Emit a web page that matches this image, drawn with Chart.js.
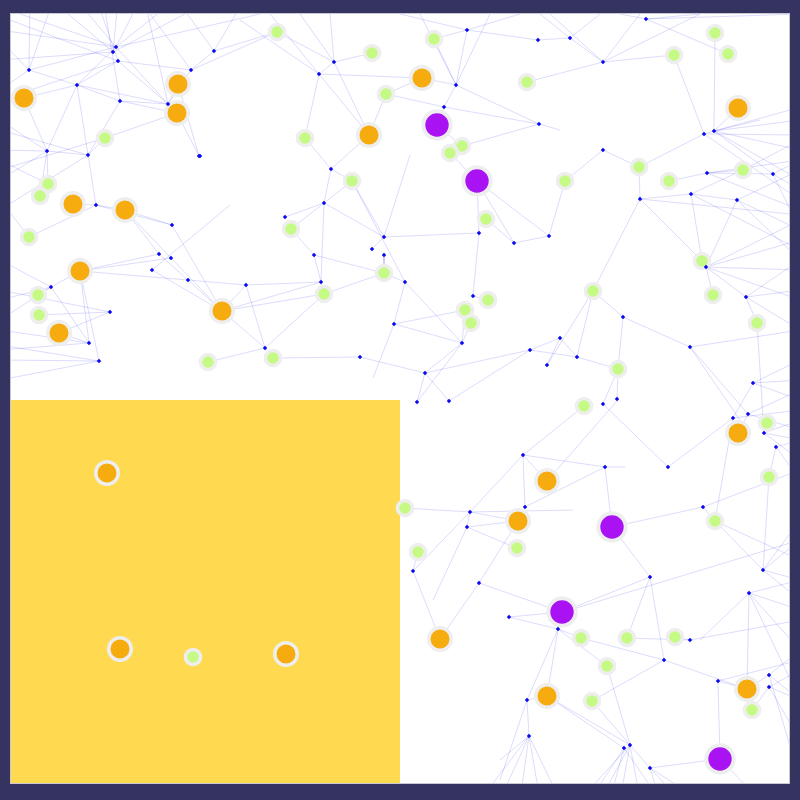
<!DOCTYPE html>
<html>
<head>
<meta charset="utf-8">
<script src="https://cdn.jsdelivr.net/npm/chart.js@4"></script>
<style>
html,body{margin:0;padding:0;background:#35335f;}
#wrap{width:800px;height:800px;position:relative;}
</style>
</head>
<body>
<div id="wrap"><canvas id="c" width="800" height="800"></canvas></div>
<script>
// ---- data (layout coordinates) ----
const orangeNodes = [[24,98],[178,84],[177,113],[73,204],[125,210],[80,271],[59,333],[222,311],[369,135],[422,78],[738,108],[738,433],[547,481],[518,521],[440,639],[547,696],[747,689],[107,473],[120,649],[286,654]];
const purpleNodes = [[437,125],[477,181],[612,527],[562,612],[720,759]];
const greenNodes = [[277,32],[372,53],[434,39],[527,82],[386,94],[305,138],[105,138],[48,184],[40,196],[29,237],[352,181],[462,146],[450,153],[565,181],[486,219],[291,229],[384,273],[324,294],[38,295],[39,315],[208,362],[273,358],[465,310],[488,300],[471,323],[593,291],[715,33],[728,54],[674,55],[639,167],[669,181],[743,170],[702,261],[713,295],[757,323],[618,369],[584,406],[767,423],[769,477],[715,521],[405,508],[418,552],[517,548],[581,638],[627,638],[675,637],[607,666],[592,701],[752,710],[193,657]];
const hubNodes = [[116,47],[113,52],[118,61],[29,70],[77,85],[191,70],[120,101],[168,104],[199,156],[47,151],[88,155],[214,51],[334,62],[319,74],[467,30],[456,85],[444,107],[200,156],[331,169],[646,19],[570,38],[538,40],[603,62],[704,134],[714,131],[603,150],[707,173],[773,174],[691,194],[640,199],[737,200],[539,124],[384,237],[384,255],[405,282],[479,233],[514,243],[549,236],[473,296],[96,205],[172,225],[159,254],[171,258],[152,270],[188,280],[51,287],[110,312],[89,343],[99,361],[324,203],[285,217],[372,249],[314,255],[246,285],[321,282],[265,348],[360,357],[394,324],[462,343],[425,373],[417,402],[449,401],[706,267],[746,297],[623,317],[690,347],[560,338],[577,357],[530,350],[547,365],[753,383],[617,399],[603,404],[748,414],[733,418],[764,433],[776,447],[668,467],[605,467],[523,455],[703,507],[525,507],[470,512],[467,527],[413,571],[479,583],[509,617],[558,629],[650,577],[763,570],[749,593],[664,660],[690,640],[718,681],[769,675],[769,687],[527,700],[529,736],[624,748],[630,745],[650,768]];
// edges as [x1, y1, x2, y2]; endpoints beyond the frame continue off-picture
const edges = [
[116,47,29,70],[116,47,77,85],[116,47,60,-20],[116,47,150,-20],[116,47,200,-20],[116,47,20,14],[113,52,40,-10],[113,52,230,-10],[118,61,168,104],[118,61,77,85],[118,61,90,-20],[118,61,191,70],[118,61,10,20],
[116,47,0,30],[113,52,0,60],[116,47,260,14],[118,61,0,100],[113,52,120,-20],[116,47,168,104],[29,70,0,90],[29,70,30,-10],
[77,85,29,70],[77,85,168,104],[77,85,88,155],[77,85,24,98],[77,85,120,101],[77,85,47,151],[29,70,0,40],[29,70,60,-20],[120,101,168,104],[120,101,177,113],[120,101,100,-20],[168,104,191,70],[168,104,178,84],[168,104,140,-20],
[47,151,88,155],[47,151,24,98],[47,151,48,184],[47,151,0,120],[47,151,0,180],[88,155,105,138],[88,155,96,205],[88,155,120,101],[105,138,177,113],[199,156,177,113],[199,156,178,84],[191,70,214,51],[214,51,277,32],[191,70,277,32],[214,51,170,-10],[214,51,250,-10],[191,70,150,14],
[88,155,0,130],[47,151,0,150],[88,155,0,210],[47,151,40,196],
[319,74,334,62],[319,74,422,78],[319,74,305,138],[319,74,369,135],[319,74,270,14],[319,74,240,20],[334,62,372,53],[334,62,277,32],[334,62,330,14],[334,62,300,14],[334,62,369,135],[331,169,305,138],[331,169,369,135],[331,169,352,181],[331,169,324,203],
[456,85,444,107],[456,85,422,78],[456,85,434,39],[456,85,467,30],[456,85,539,124],[456,85,420,14],[456,85,490,14],[444,107,386,94],[444,107,437,125],[444,107,539,124],[467,30,434,39],[467,30,400,14],[467,30,520,14],[467,30,538,40],[422,78,386,94],[386,94,369,135],[437,125,462,146],[462,146,539,124],[450,153,477,181],[539,124,560,130],
[570,38,603,62],[570,38,538,40],[570,38,540,14],[570,38,600,14],[646,19,728,54],[646,19,620,14],[646,19,700,14],[603,62,674,55],[603,62,527,82],[603,62,550,14],[603,62,640,14],[674,55,704,134],[715,33,714,131],[704,134,639,167],[603,150,565,181],[603,150,639,167],[639,167,640,199],[714,131,738,108],[704,134,714,131],
[714,131,800,150],[714,131,800,180],[714,131,800,120],[714,131,773,174],[714,131,760,120],[707,173,773,174],[707,173,669,181],[707,173,743,170],[707,173,800,210],[773,174,800,160],[773,174,800,190],[691,194,640,199],[691,194,737,200],[691,194,743,170],[737,200,800,230],[737,200,800,170],[743,170,800,140],
[704,134,800,135],[704,134,800,200],[707,173,800,160],[773,174,800,230],[737,200,800,260],[640,199,800,215],[691,194,800,250],[714,131,790,110],[646,19,800,14],[603,62,700,14],
[640,199,593,291],[640,199,702,261],[691,194,702,261],[737,200,706,267],[706,267,713,295],[706,267,746,297],[706,267,800,240],[706,267,800,270],[746,297,757,323],[746,297,800,290],[746,297,800,330],[593,291,623,317],[623,317,690,347],[623,317,618,369],[690,347,800,330],[690,347,740,420],[577,357,618,369],[577,357,560,338],[593,291,577,357],[593,291,547,365],[530,350,577,357],[530,350,560,338],[547,365,560,338],[618,369,603,404],[618,369,617,399],
[706,267,800,300],[746,297,800,260],[706,267,800,220],
[96,205,73,204],[96,205,125,210],[96,205,172,225],[125,210,172,225],[125,210,159,254],[125,210,171,258],[80,271,159,254],[80,271,171,258],[80,271,188,280],[29,237,96,205],[51,287,80,271],[51,287,38,295],[51,287,89,343],[51,287,0,260],[51,287,0,300],[39,315,110,312],[59,333,110,312],[80,271,89,343],[80,271,99,361],[89,343,59,333],[99,361,0,380],[99,361,0,345],[89,343,0,330],[188,280,222,311],[172,225,222,311],[171,258,222,311],[152,270,222,311],[159,254,188,280],[29,237,0,200],[105,138,0,170],[48,184,0,160],[110,312,0,290],[230,205,152,270],
[99,361,0,360],[89,343,0,350],[51,287,0,320],
[324,203,285,217],[324,203,291,229],[324,203,352,181],[324,203,384,237],[324,203,321,282],[291,229,314,255],[314,255,321,282],[321,282,324,294],[321,282,246,285],[246,285,188,280],[246,285,222,311],[246,285,265,348],[265,348,273,358],[265,348,208,362],[265,348,222,311],[273,358,360,357],[360,357,425,373],[425,373,462,343],[425,373,417,402],[449,401,425,373],[394,324,462,343],[394,324,405,282],[394,324,373,378],[384,255,384,273],[384,237,372,249],[384,237,478,233],[384,237,352,181],[384,273,405,282],[324,294,384,273],[324,294,222,311],[324,294,265,348],[314,255,384,273],[405,282,462,343],[473,296,479,233],[479,233,477,181],[514,243,477,181],[549,236,477,181],[514,243,549,236],[514,243,486,219],[549,236,565,181],[473,296,488,300],[462,343,471,323],[462,343,465,310],[384,237,410,155],[405,282,352,181],[321,282,222,311],[394,324,465,310],[425,373,530,350],[417,402,462,343],[449,401,530,350],
[523,455,525,507],[523,455,470,512],[523,455,605,467],[523,455,547,481],[523,455,584,406],[605,467,525,507],[605,467,612,527],[605,467,625,467],[470,512,405,508],[470,512,518,521],[470,512,467,527],[470,512,413,571],[470,512,573,510],[467,527,518,521],[467,527,516,548],[467,527,433,600],[413,571,418,552],[413,571,440,639],[479,583,440,639],[479,583,518,521],[479,583,562,612],[509,617,562,612],[509,617,558,629],[558,629,581,638],[558,629,607,666],[558,629,547,696],[558,629,527,700],[562,612,650,577],[612,527,703,507],[612,527,650,577],[618,400,547,481],[603,404,668,467],[668,467,733,418],[703,507,715,521],[703,507,800,470],[650,577,664,660],[650,577,627,638],[664,660,581,638],[664,660,592,701],[664,660,747,689],[690,640,627,638],[690,640,675,637],[690,640,800,620],[718,681,720,759],[718,681,747,689],[769,675,747,689],[769,687,752,710],[630,745,547,696],[630,745,607,666],[650,768,720,759],[527,700,529,736],[527,700,547,696],[563,612,800,540],[715,521,800,560],
[753,383,800,360],[753,383,800,400],[753,383,733,418],[748,414,800,430],[748,414,738,433],[733,418,800,410],[764,433,800,460],[764,433,800,420],[776,447,800,480],[776,447,769,477],[733,418,715,521],[748,414,690,347],[764,433,757,323],[763,570,800,540],[763,570,800,580],[763,570,800,600],[763,570,769,477],[763,570,715,521],[749,593,800,610],[749,593,800,650],[749,593,747,689],[749,593,700,640],[769,675,800,650],[769,675,800,700],[769,687,800,740],[769,687,800,700],[749,593,800,700],
[753,383,800,380],[748,414,800,390],[764,433,800,440],[776,447,800,440],[763,570,800,520],[749,593,800,580],[769,687,800,670],[718,681,800,660],[769,675,800,780],
[529,736,500,800],[529,736,520,800],[529,736,560,800],[529,736,480,800],[630,745,600,800],[630,745,640,800],[630,745,580,800],[624,748,610,800],[624,748,660,800],[650,768,680,800],[650,768,700,800],[624,748,547,696],[650,768,592,701],[720,759,760,800],
[529,736,540,800],[529,736,500,760],[624,748,590,800],[630,745,620,800],[650,768,660,800],[527,700,500,780]
];
const yellowRegion = [11, 400, 400, 783]; // x1, y1, x2, y2

// ---- build datasets ----
const toPts = a => a.map(p => ({x: p[0], y: p[1]}));
const edgePts = [];
edges.forEach(e => { edgePts.push({x: e[0], y: e[1]}); edgePts.push({x: e[2], y: e[3]}); edgePts.push({x: e[0], y: null}); });

const frame = {
  id: 'frame',
  beforeDraw(chart) {
    const {ctx, chartArea: a} = chart;
    ctx.save();
    ctx.fillStyle = '#35335f';
    ctx.fillRect(0, 0, chart.width, chart.height);
    ctx.fillStyle = '#c9c8d2';
    ctx.fillRect(a.left - 1, a.top - 1, a.right - a.left + 2, a.bottom - a.top + 2);
    ctx.fillStyle = '#ffffff';
    ctx.fillRect(a.left, a.top, a.right - a.left, a.bottom - a.top);
    ctx.restore();
  },
  afterDatasetDraw(chart, args) {
    if (args.index !== 0) return;
    const {ctx} = chart;
    const xs = chart.scales.x, ys = chart.scales.y;
    const x1 = xs.getPixelForValue(yellowRegion[0]), x2 = xs.getPixelForValue(yellowRegion[2]);
    const y1 = ys.getPixelForValue(yellowRegion[1]), y2 = ys.getPixelForValue(yellowRegion[3]);
    ctx.save();
    ctx.fillStyle = '#ffd94f';
    ctx.fillRect(x1, y1, x2 - x1, y2 - y1);
    ctx.restore();
  }
};

new Chart(document.getElementById('c'), {
  type: 'scatter',
  data: {
    datasets: [
      {data: edgePts, showLine: true, spanGaps: false, borderColor: 'rgba(70,70,240,0.19)', borderWidth: 1, pointRadius: 0, order: 6, clip: 0},
      {data: toPts(greenNodes), pointRadius: 7.5, borderWidth: 3.6, backgroundColor: '#c5fb84', borderColor: '#eeeeee', order: 4, clip: 0},
      {data: toPts(orangeNodes), pointRadius: 11.25, borderWidth: 3.5, backgroundColor: '#f6ab0f', borderColor: '#eeeeee', order: 3, clip: 0},
      {data: toPts(purpleNodes), pointRadius: 13.7, borderWidth: 4, backgroundColor: '#a912f2', borderColor: '#eeeeee', order: 2, clip: 0},
      {data: toPts(hubNodes), pointRadius: 2.2, borderWidth: 0, pointStyle: 'rectRot', backgroundColor: '#0a0af0', borderColor: '#0a0af0', order: 1, clip: 0}
    ]
  },
  options: {
    responsive: false,
    animation: false,
    events: [],
    layout: {autoPadding: false, padding: {left: 11, top: 14, right: 11, bottom: 17}},
    plugins: {legend: {display: false}, tooltip: {enabled: false}},
    scales: {
      x: {type: 'linear', min: 11, max: 789, display: false},
      y: {type: 'linear', min: 14, max: 783, reverse: true, display: false}
    }
  },
  plugins: [frame]
});
</script>
</body>
</html>
